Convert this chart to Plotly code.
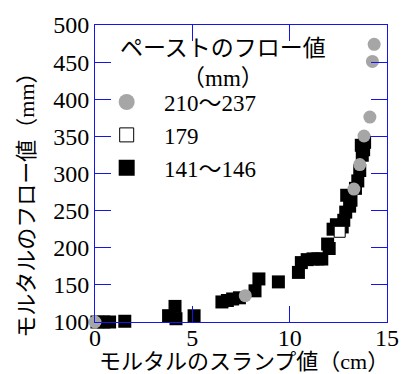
import plotly.graph_objects as go

# Mortar slump (cm) vs. mortar flow (mm), grouped by paste flow value
paste_high_slump = [0.0, 7.72, 13.30, 13.60, 13.82, 14.12, 14.25, 14.34]
paste_high_flow = [100, 135.5, 279, 312, 350.5, 376, 451, 474]

paste_179_slump = [12.57]
paste_179_flow = [221.5]

paste_low_slump = [0.10, 0.45, 0.75, 1.53, 3.78, 4.11, 4.16, 5.09, 6.52, 6.80,
                   7.07, 7.42, 8.22, 8.42, 9.42, 10.45, 10.60, 10.90, 11.20, 11.45,
                   11.65, 11.95, 12.03, 12.23, 12.40, 12.70, 12.78, 12.88, 12.93, 13.08,
                   13.15, 13.38, 13.50, 13.60, 13.73, 13.68, 13.80, 13.85]
paste_low_flow = [100, 100, 100, 101, 108.5, 121, 104.4, 108.4, 127, 129,
                  131, 132.6, 142, 158, 154, 166.8, 180, 184, 185, 185,
                  184.8, 205, 199, 225, 231, 228, 237, 248, 270.7, 256,
                  264, 280, 290, 304, 324.6, 338, 332, 342]

legend_names = ["210～237", "179", "141～146"]
x_ticks = [0, 5, 10, 15]
y_ticks = [100, 150, 200, 250, 300, 350, 400, 450, 500]

FONT = "Liberation Serif, Times New Roman, Noto Sans CJK JP, serif"
AXIS_BLUE = "#1515e8"
GRAY = "#a6a6a6"
PAD = "\u00a0\u00a0\u00a0"

fig = go.Figure()

# data markers (legend entries are drawn by the larger key-only traces below)
fig.add_trace(go.Scatter(
    x=paste_low_slump, y=paste_low_flow, mode="markers", showlegend=False,
    marker=dict(symbol="square", size=13, color="black", line=dict(width=0)),
    cliponaxis=False,
))
fig.add_trace(go.Scatter(
    x=paste_179_slump, y=paste_179_flow, mode="markers", showlegend=False,
    marker=dict(symbol="square", size=11, color="white", line=dict(width=1, color="black")),
    cliponaxis=False,
))
fig.add_trace(go.Scatter(
    x=paste_high_slump, y=paste_high_flow, mode="markers", showlegend=False,
    marker=dict(symbol="circle", size=13, color=GRAY, line=dict(width=0)),
    cliponaxis=False,
))

# legend keys
key_styles = [
    dict(symbol="circle", size=16, color=GRAY, line=dict(width=0)),
    dict(symbol="square", size=14, color="white", line=dict(width=1, color="black")),
    dict(symbol="square", size=16, color="black", line=dict(width=0)),
]
for rank, (name, mk) in enumerate(zip(legend_names, key_styles)):
    fig.add_trace(go.Scatter(
        x=[None], y=[None], mode="markers", name=PAD + name,
        marker=mk, legendrank=rank + 1,
    ))

axis_common = dict(
    showline=True, linecolor=AXIS_BLUE, linewidth=1, mirror="ticks",
    ticks="inside", ticklen=16, tickcolor=AXIS_BLUE, tickwidth=1,
    showgrid=False, zeroline=False,
    tickfont=dict(family=FONT, size=24, color="black"),
)

fig.update_layout(
    width=411, height=374,
    margin=dict(l=95, r=17, t=24, b=52),
    paper_bgcolor="white", plot_bgcolor="white",
    font=dict(family=FONT, size=23, color="black"),
    xaxis=dict(range=[0, 15], tickvals=x_ticks, ticklabelstandoff=-6, **axis_common),
    yaxis=dict(range=[100, 500], tickvals=y_ticks, **axis_common),
    legend=dict(
        x=0.04, y=0.813, xanchor="left", yanchor="top",
        bgcolor="rgba(0,0,0,0)", font=dict(family=FONT, size=23),
        itemsizing="trace", tracegroupgap=0,
    ),
    showlegend=True,
    annotations=[
        dict(text="ペーストのフロー値<br>（mm）", xref="paper", yref="paper",
             x=0.44, y=0.869, xanchor="center", yanchor="middle", align="center",
             showarrow=False, font=dict(family=FONT, size=23)),
        dict(text="モルタルのスランプ値（cm）", xref="paper", yref="paper",
             x=0.51, y=-0.134, xanchor="center", yanchor="middle", borderpad=0,
             showarrow=False, font=dict(family=FONT, size=22)),
        dict(text="モルタルのフロー値（mm）", xref="paper", yref="paper",
             x=-0.235, y=0.413, xanchor="center", yanchor="middle", textangle=-90,
             showarrow=False, font=dict(family=FONT, size=22)),
    ],
)

fig.write_html("out.html")
